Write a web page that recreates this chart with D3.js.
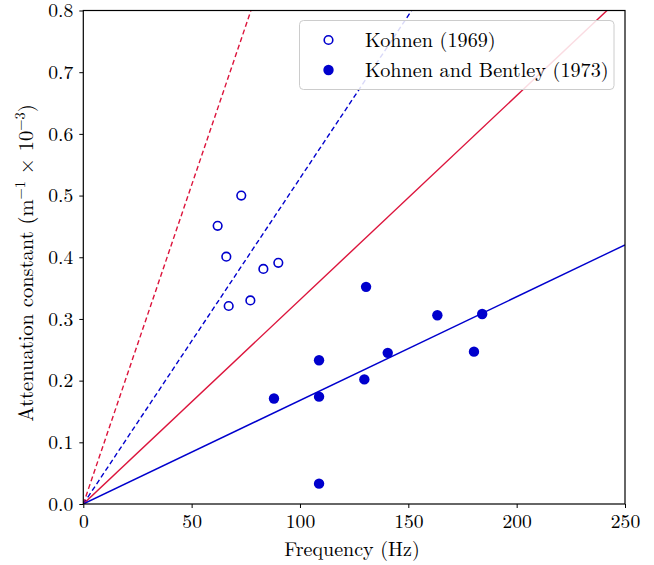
<!DOCTYPE html>
<html><head><meta charset="utf-8">
<script src="https://cdn.jsdelivr.net/npm/d3@7"></script>
<style>body{margin:0;background:#fff}svg{display:block}</style>
</head><body><svg id="c" width="654" height="565"></svg>
<script>
// Data
const kohnen1969Freq = [62.0, 72.9, 66.0, 83.1, 90.0, 67.1, 77.1];
const kohnen1969Atten = [0.451, 0.500, 0.401, 0.381, 0.391, 0.321, 0.330];
const kb1973Freq = [88.0, 108.8, 108.8, 108.8, 130.5, 163.4, 184.1, 140.5, 180.3, 129.7];
const kb1973Atten = [0.171, 0.233, 0.174, 0.033, 0.352, 0.306, 0.308, 0.245, 0.247, 0.202];
const lineNames = ["redDashed", "blueDashed", "redSolid", "blueSolid"];
const lineSlopes = [0.01034, 0.00528, 0.00331, 0.00168]; // attenuation per Hz
const lineColors = ["#DC143C", "#0000CD", "#DC143C", "#0000CD"];
const lineDashed = [true, true, false, false];
const xTicks = [0, 50, 100, 150, 200, 250];
const yTicks = [0.0, 0.1, 0.2, 0.3, 0.4, 0.5, 0.6, 0.7, 0.8];
const legendLabels = ["Kohnen (1969)", "Kohnen and Bentley (1973)"];

const FONT = '"Latin Modern Roman","CMU Serif","Liberation Serif",serif';
const svg = d3.select("#c");
const L = 83.3, R = 625, T = 10.5, B = 504;
const x = d3.scaleLinear().domain([0, 250]).range([L, R]);
const y = d3.scaleLinear().domain([0, 0.8]).range([B, T]);
const blue = "#0000CD";

svg.append("clipPath").attr("id", "clip").append("rect")
  .attr("x", L).attr("y", T).attr("width", R - L).attr("height", B - T);
const plot = svg.append("g").attr("clip-path", "url(#clip)");

lineSlopes.forEach((s, i) => {
  plot.append("line")
    .attr("x1", x(0)).attr("y1", y(0))
    .attr("x2", x(250)).attr("y2", y(s * 250))
    .attr("stroke", lineColors[i]).attr("stroke-width", 1.4)
    .attr("stroke-dasharray", lineDashed[i] ? "5,3" : null);
});

plot.selectAll(".open").data(kohnen1969Freq).enter().append("circle")
  .attr("cx", d => x(d)).attr("cy", (d, i) => y(kohnen1969Atten[i]))
  .attr("r", 4.3).attr("fill", "none").attr("stroke", blue).attr("stroke-width", 1.6);
plot.selectAll(".fill").data(kb1973Freq).enter().append("circle")
  .attr("cx", d => x(d)).attr("cy", (d, i) => y(kb1973Atten[i]))
  .attr("r", 5.2).attr("fill", blue);

// Axes
const xAxis = svg.append("g").attr("transform", `translate(0,${B})`)
  .call(d3.axisBottom(x).tickValues(xTicks).tickSize(4).tickPadding(6.5).tickFormat(d3.format("d")));
const yAxis = svg.append("g").attr("transform", `translate(${L},0)`)
  .call(d3.axisLeft(y).tickValues(yTicks).tickSize(4).tickPadding(6).tickFormat(d3.format(".1f")));
[xAxis, yAxis].forEach(a => {
  a.attr("font-family", null).attr("font-size", null);
  a.select(".domain").remove();
  a.selectAll("text").style("font-size", "19.6px").style("font-family", FONT).attr("fill", "#000");
  a.selectAll("line").attr("stroke", "#000").attr("stroke-width", 1);
});
svg.append("rect").attr("x", L).attr("y", T).attr("width", R - L).attr("height", B - T)
  .attr("fill", "none").attr("stroke", "#000").attr("stroke-width", 1.2);

// Axis labels
svg.append("text").attr("x", 352).attr("y", 556).attr("text-anchor", "middle")
  .style("font-family", FONT).style("font-size", "20px").text("Frequency (Hz)");
const yl = svg.append("text").attr("transform", `translate(33,263) rotate(-90)`)
  .attr("text-anchor", "middle").style("font-family", FONT).style("font-size", "20.5px");
yl.append("tspan").text("Attenuation constant (m");
yl.append("tspan").attr("dy", -8).style("font-size", "14.5px").text("−1");
yl.append("tspan").attr("dy", 8).text(" × 10");
yl.append("tspan").attr("dy", -8).style("font-size", "14.5px").text("−3");
yl.append("tspan").attr("dy", 8).text(")");

// Legend
const lg = svg.append("g");
lg.append("rect").attr("x", 299.5).attr("y", 20.5).attr("width", 314.5).attr("height", 69)
  .attr("rx", 4).attr("fill", "rgba(255,255,255,0.85)").attr("stroke", "#ccc").attr("stroke-width", 1);
legendLabels.forEach((t, i) => {
  const cy = 40 + i * 30;
  if (i === 0) lg.append("circle").attr("cx", 328.5).attr("cy", cy).attr("r", 4.3)
    .attr("fill", "none").attr("stroke", blue).attr("stroke-width", 1.6);
  else lg.append("circle").attr("cx", 328.5).attr("cy", cy).attr("r", 5.2).attr("fill", blue);
  lg.append("text").attr("x", 365).attr("y", cy + 6.5)
    .style("font-family", FONT).style("font-size", "20.2px").text(t);
});
</script></body></html>
